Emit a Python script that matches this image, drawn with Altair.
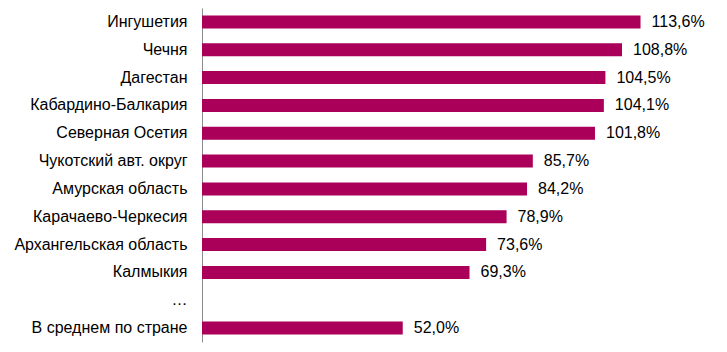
import altair as alt
import pandas as pd

regions = ["Ингушетия", "Чечня", "Дагестан", "Кабардино-Балкария", "Северная Осетия",
           "Чукотский авт. округ", "Амурская область", "Карачаево-Черкесия",
           "Архангельская область", "Калмыкия", "…", "В среднем по стране"]
values = [113.6, 108.8, 104.5, 104.1, 101.8, 85.7, 84.2, 78.9, 73.6, 69.3, None, 52.0]

labels = ["" if v is None else f"{v:.1f}%".replace(".", ",") for v in values]
df = pd.DataFrame({"region": regions, "value": values, "label": labels})

FONT = "Liberation Sans"
COLOR = "#AA0059"

y = alt.Y("region:N", sort=regions, title=None,
          scale=alt.Scale(paddingInner=0.53, paddingOuter=0.265),
          axis=alt.Axis(ticks=False, labelPadding=15, labelFontSize=16, labelFont=FONT,
                        labelColor="#000000", domainColor="#8c8c8c", domainWidth=1,
                        labelLimit=300))
x = alt.X("value:Q", scale=alt.Scale(domain=[0, 136], nice=False), axis=None, title=None)

bars = alt.Chart(df).mark_bar(color=COLOR).encode(x=x, y=y)
text = alt.Chart(df).mark_text(align="left", baseline="middle", dx=11, fontSize=16,
                               font=FONT, color="#000000").encode(x=x, y=y, text="label:N")

chart = (bars + text).properties(
    width=525, height=334,
    autosize=alt.AutoSizeParams(type="none"),
    padding={"left": 202, "top": 8, "right": 0, "bottom": 10},
).configure_view(stroke=None)

chart.save("out.html", embed_options={"renderer": "svg", "actions": False})
